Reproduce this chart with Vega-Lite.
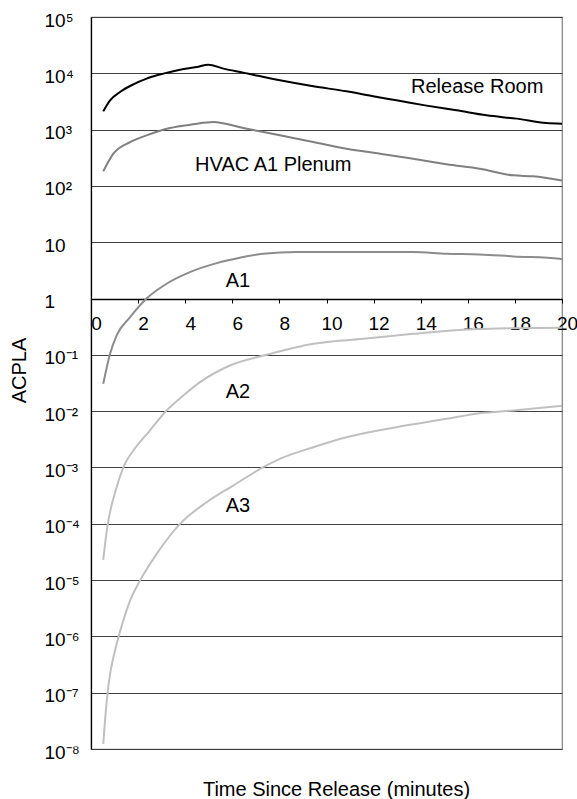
{
  "$schema": "https://vega.github.io/schema/vega-lite/v6.json",
  "width": 471,
  "height": 732,
  "autosize": {"type": "none"},
  "padding": {"left": 91, "top": 17, "right": 15, "bottom": 50},
  "background": "white",
  "config": {"view": {"stroke": "#808080", "strokeWidth": 1.2}, "font": "Liberation Sans"},
  "layer": [
    {
      "data": {"values": [
        {"series": "Release Room", "t": 0.52, "v": 2109},
        {"series": "Release Room", "t": 0.81, "v": 3311},
        {"series": "Release Room", "t": 1.23, "v": 4645},
        {"series": "Release Room", "t": 1.8, "v": 6368},
        {"series": "Release Room", "t": 2.36, "v": 8035},
        {"series": "Release Room", "t": 3.07, "v": 9863},
        {"series": "Release Room", "t": 3.78, "v": 11614},
        {"series": "Release Room", "t": 4.49, "v": 12942},
        {"series": "Release Room", "t": 4.98, "v": 14256},
        {"series": "Release Room", "t": 5.62, "v": 12106},
        {"series": "Release Room", "t": 6.46, "v": 10280},
        {"series": "Release Room", "t": 8.02, "v": 7499},
        {"series": "Release Room", "t": 9.44, "v": 5875},
        {"series": "Release Room", "t": 10.85, "v": 4786},
        {"series": "Release Room", "t": 11.98, "v": 3899},
        {"series": "Release Room", "t": 12.97, "v": 3311},
        {"series": "Release Room", "t": 14.25, "v": 2667},
        {"series": "Release Room", "t": 15.52, "v": 2198},
        {"series": "Release Room", "t": 16.8, "v": 1791},
        {"series": "Release Room", "t": 18.07, "v": 1567},
        {"series": "Release Room", "t": 19.34, "v": 1309},
        {"series": "Release Room", "t": 20, "v": 1276},
        {"series": "HVAC A1 Plenum", "t": 0.52, "v": 181},
        {"series": "HVAC A1 Plenum", "t": 0.95, "v": 374},
        {"series": "HVAC A1 Plenum", "t": 1.66, "v": 601},
        {"series": "HVAC A1 Plenum", "t": 2.36, "v": 791},
        {"series": "HVAC A1 Plenum", "t": 3.35, "v": 1067},
        {"series": "HVAC A1 Plenum", "t": 4.34, "v": 1242},
        {"series": "HVAC A1 Plenum", "t": 5.19, "v": 1365},
        {"series": "HVAC A1 Plenum", "t": 6.46, "v": 1067},
        {"series": "HVAC A1 Plenum", "t": 8.02, "v": 791},
        {"series": "HVAC A1 Plenum", "t": 9.44, "v": 601},
        {"series": "HVAC A1 Plenum", "t": 10.85, "v": 458},
        {"series": "HVAC A1 Plenum", "t": 12.27, "v": 374},
        {"series": "HVAC A1 Plenum", "t": 13.68, "v": 305},
        {"series": "HVAC A1 Plenum", "t": 15.1, "v": 242},
        {"series": "HVAC A1 Plenum", "t": 16.51, "v": 202},
        {"series": "HVAC A1 Plenum", "t": 17.93, "v": 154},
        {"series": "HVAC A1 Plenum", "t": 18.77, "v": 148},
        {"series": "HVAC A1 Plenum", "t": 20, "v": 125},
        {"series": "A1", "t": 0.52, "v": 0.0306},
        {"series": "A1", "t": 0.81, "v": 0.1045},
        {"series": "A1", "t": 1.09, "v": 0.2208},
        {"series": "A1", "t": 1.66, "v": 0.4667},
        {"series": "A1", "t": 2.36, "v": 1.0},
        {"series": "A1", "t": 3.21, "v": 1.832},
        {"series": "A1", "t": 4.2, "v": 2.944},
        {"series": "A1", "t": 5.34, "v": 4.256},
        {"series": "A1", "t": 6.32, "v": 5.309},
        {"series": "A1", "t": 7.31, "v": 6.252},
        {"series": "A1", "t": 8.73, "v": 6.683},
        {"series": "A1", "t": 10.85, "v": 6.683},
        {"series": "A1", "t": 13.68, "v": 6.683},
        {"series": "A1", "t": 15.1, "v": 6.252},
        {"series": "A1", "t": 16.51, "v": 6.081},
        {"series": "A1", "t": 17.93, "v": 5.598},
        {"series": "A1", "t": 19.9, "v": 5.093},
        {"series": "A1", "t": 20, "v": 4.955},
        {"series": "A2", "t": 0.52, "v": 0.00002286},
        {"series": "A2", "t": 0.67, "v": 0.0000757},
        {"series": "A2", "t": 1.09, "v": 0.0004457},
        {"series": "A2", "t": 1.44, "v": 0.001161},
        {"series": "A2", "t": 1.8, "v": 0.002},
        {"series": "A2", "t": 2.5, "v": 0.004529},
        {"series": "A2", "t": 3.21, "v": 0.01028},
        {"series": "A2", "t": 3.92, "v": 0.01897},
        {"series": "A2", "t": 4.63, "v": 0.03273},
        {"series": "A2", "t": 5.9, "v": 0.06471},
        {"series": "A2", "t": 7.46, "v": 0.1002},
        {"series": "A2", "t": 9.44, "v": 0.1574},
        {"series": "A2", "t": 11.56, "v": 0.1932},
        {"series": "A2", "t": 13.68, "v": 0.2366},
        {"series": "A2", "t": 15.8, "v": 0.2793},
        {"series": "A2", "t": 17.93, "v": 0.2979},
        {"series": "A2", "t": 20, "v": 0.3027},
        {"series": "A3", "t": 0.52, "v": 1.23e-8},
        {"series": "A3", "t": 0.67, "v": 7.23e-8},
        {"series": "A3", "t": 0.81, "v": 2.153e-7},
        {"series": "A3", "t": 0.95, "v": 4.246e-7},
        {"series": "A3", "t": 1.09, "v": 7.345e-7},
        {"series": "A3", "t": 1.37, "v": 1.905e-6},
        {"series": "A3", "t": 1.66, "v": 4.315e-6},
        {"series": "A3", "t": 2.08, "v": 9.772e-6},
        {"series": "A3", "t": 2.79, "v": 2.924e-5},
        {"series": "A3", "t": 3.78, "v": 9.977e-5},
        {"series": "A3", "t": 4.91, "v": 2.415e-4},
        {"series": "A3", "t": 6.04, "v": 4.775e-4},
        {"series": "A3", "t": 7.31, "v": 1.009e-3},
        {"series": "A3", "t": 8.02, "v": 1.422e-3},
        {"series": "A3", "t": 9.44, "v": 2.291e-3},
        {"series": "A3", "t": 10.85, "v": 3.443e-3},
        {"series": "A3", "t": 12.97, "v": 5.188e-3},
        {"series": "A3", "t": 15.1, "v": 7.311e-3},
        {"series": "A3", "t": 16.51, "v": 9.204e-3},
        {"series": "A3", "t": 17.93, "v": 0.01028},
        {"series": "A3", "t": 20, "v": 0.01245}
      ]},
      "mark": {"type": "line", "strokeWidth": 2, "interpolate": "monotone"},
      "encoding": {
        "x": {
          "field": "t", "type": "quantitative",
          "scale": {"domain": [0, 20], "nice": false, "zero": false},
          "axis": {
            "orient": "bottom", "offset": -450,
            "values": [0, 2, 4, 6, 8, 10, 12, 14, 16, 18, 20],
            "grid": false,
            "domainColor": "#000000", "domainWidth": 1.3,
            "tickColor": "#000000", "tickSize": 4, "tickWidth": 1,
            "labelFontSize": 19, "labelColor": "#000000",
            "labelPadding": 11, "labelOffset": 5,
            "labelFlush": false, "labelOverlap": false,
            "title": "Time Since Release (minutes)",
            "titleFontSize": 20, "titleFontWeight": "normal", "titleColor": "#000000",
            "titleX": 245, "titleY": 496, "titleAlign": "center", "titleBaseline": "alphabetic"
          }
        },
        "y": {
          "field": "v", "type": "quantitative",
          "scale": {"type": "log", "domain": [1e-8, 100000], "nice": false},
          "axis": {
            "values": [1e-8, 1e-7, 1e-6, 1e-5, 1e-4, 1e-3, 1e-2, 1e-1, 1, 10, 100, 1000, 10000, 100000],
            "grid": true, "gridColor": "#404040", "gridWidth": 1.2,
            "ticks": false,
            "labelPadding": 47, "labelAlign": "left", "labelFontSize": 19, "labelColor": "#000000",
            "labelBaseline": "middle", "labelOffset": 3,
            "labelFlush": false, "labelOverlap": false,
            "labelExpr": "datum.value > 0.5 && datum.value < 2 ? '1' : (datum.value > 5 && datum.value < 20 ? '10' : '10' + (datum.value < 1 ? '⁻' : '') + slice('⁰¹²³⁴⁵⁶⁷⁸⁹', abs(round(log(datum.value)/LN10)), abs(round(log(datum.value)/LN10)) + 1))",
            "domainColor": "#000000", "domainWidth": 1.3,
            "title": "ACPLA", "titleFontSize": 20, "titleFontWeight": "normal", "titleColor": "#000000",
            "titleX": -72, "titleY": 353, "titleAngle": -90, "titleAlign": "center", "titleBaseline": "middle"
          }
        },
        "color": {
          "field": "series", "type": "nominal",
          "scale": {"domain": ["Release Room", "HVAC A1 Plenum", "A1", "A2", "A3"], "range": ["#000000", "#808080", "#8c8c8c", "#c0c0c0", "#c0c0c0"]},
          "legend": null
        }
      }
    },
    {
      "data": {"values": [
        {"t": 13.59, "v": 5800, "label": "Release Room"},
        {"t": 4.42, "v": 232, "label": "HVAC A1 Plenum"},
        {"t": 5.72, "v": 2.01, "label": "A1"},
        {"t": 5.72, "v": 0.0223, "label": "A2"},
        {"t": 5.72, "v": 0.000207, "label": "A3"}
      ]},
      "mark": {"type": "text", "align": "left", "baseline": "middle", "fontSize": 20, "color": "#000000"},
      "encoding": {
        "x": {"field": "t", "type": "quantitative"},
        "y": {"field": "v", "type": "quantitative"},
        "text": {"field": "label", "type": "nominal"}
      }
    }
  ]
}
